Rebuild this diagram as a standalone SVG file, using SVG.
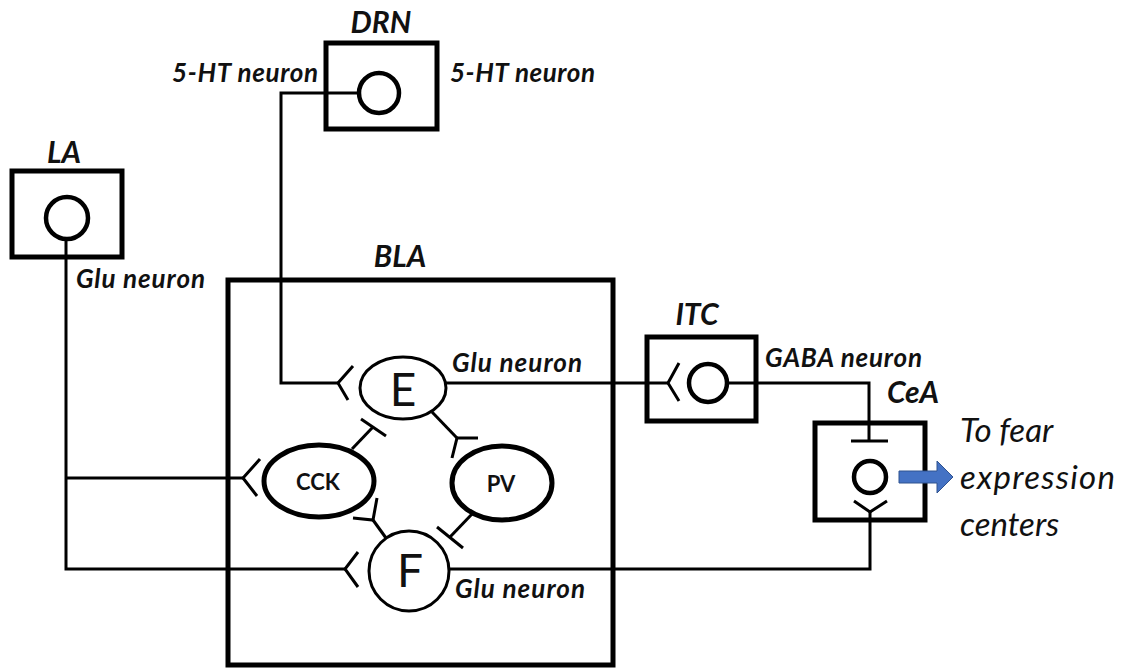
<svg xmlns="http://www.w3.org/2000/svg" width="1126" height="668" viewBox="0 0 1126 668">
<style>
.box{fill:none;stroke:#000;stroke-width:5}
.soma{fill:#fff;stroke:#000;stroke-width:4.5}
.thin{fill:#fff;stroke:#000;stroke-width:3}
.thick{fill:#fff;stroke:#000;stroke-width:5}
.ln{fill:none;stroke:#000;stroke-width:3;stroke-linecap:butt;stroke-linejoin:miter}
.lbl{font-family:Lato,"Open Sans","Liberation Sans",sans-serif;font-weight:bold;font-style:italic;font-size:26px;fill:#111}
.ttl{font-family:Lato,"Open Sans","Liberation Sans",sans-serif;font-weight:bold;font-style:italic;font-size:30px;fill:#111}
.big{font-family:Lato,"Open Sans","Liberation Sans",sans-serif;font-size:46px;fill:#111}
.cell{font-family:Lato,"Open Sans","Liberation Sans",sans-serif;font-weight:bold;font-size:22px;fill:#111}
.out{font-family:Lato,"Open Sans","Liberation Sans",sans-serif;font-style:italic;font-size:33px;fill:#111}
</style>
<rect width="1126" height="668" fill="#fff"/>
<g id="connectors">
  <!-- DRN to E -->
  <polyline class="ln" points="359,93 281,93 281,383 338,383"/>
  <polyline class="ln" points="353,366 338,383 348,400"/>
  <!-- LA to CCK and F -->
  <polyline class="ln" points="66,239 66,569 345,569"/>
  <polyline class="ln" points="358,552 345,569 358,587"/>
  <line class="ln" x1="66" y1="478" x2="243" y2="478"/>
  <polyline class="ln" points="260,459 243,478 257,496"/>
  <!-- E to ITC -->
  <line class="ln" x1="446" y1="383" x2="668" y2="383"/>
  <polyline class="ln" points="679,363 668,383 679,401"/>
  <!-- ITC to CeA -->
  <polyline class="ln" points="727,383 869,383 869,441"/>
  <line class="ln" x1="851" y1="441" x2="888" y2="441"/>
  <!-- F to CeA -->
  <polyline class="ln" points="449,569 870,569 870,512"/>
  <polyline class="ln" points="854,501 870,512 887,501"/>
  <!-- CCK -| E -->
  <line class="ln" x1="352" y1="449" x2="373" y2="427"/>
  <line class="ln" x1="361" y1="419" x2="386" y2="436"/>
  <!-- E to PV -->
  <line class="ln" x1="432" y1="412" x2="457" y2="438"/>
  <polyline class="ln" points="478,438 457,438 452,458"/>
  <!-- F to CCK -->
  <line class="ln" x1="386" y1="538" x2="373" y2="520"/>
  <polyline class="ln" points="353,518 373,520 377,498"/>
  <!-- PV -| F -->
  <line class="ln" x1="473" y1="513" x2="450" y2="537"/>
  <line class="ln" x1="437" y1="527" x2="463" y2="548"/>
</g>
<g id="DRN">
  <rect class="box" x="326" y="43" width="111" height="86"/>
  <circle class="soma" cx="379" cy="93" r="20"/>
  <text class="ttl" x="381" y="33" text-anchor="middle">DRN</text>
  <text class="lbl" x="172" y="82" textLength="146">5-HT neuron</text>
  <text class="lbl" x="450" y="82" textLength="145">5-HT neuron</text>
</g>
<g id="LA">
  <rect class="box" x="12" y="171" width="110" height="86"/>
  <circle class="soma" cx="67" cy="218" r="21"/>
  <text class="ttl" x="64" y="163" text-anchor="middle">LA</text>
  <text class="lbl" x="76" y="288" textLength="129">Glu neuron</text>
</g>
<g id="BLA">
  <rect class="box" x="228" y="280" width="385" height="385"/>
  <text class="ttl" x="400" y="267" text-anchor="middle">BLA</text>
</g>
<g id="E">
  <ellipse class="thin" cx="403" cy="388" rx="43" ry="31"/>
  <text class="big" x="403" y="406" text-anchor="middle">E</text>
  <text class="lbl" x="452" y="372" textLength="130">Glu neuron</text>
</g>
<g id="CCK">
  <ellipse class="thick" cx="319" cy="481" rx="55" ry="36"/>
  <text class="cell" x="318" y="490" text-anchor="middle">CCK</text>
</g>
<g id="PV">
  <ellipse class="thick" cx="502" cy="483" rx="50" ry="37"/>
  <text class="cell" x="501" y="492" text-anchor="middle">PV</text>
</g>
<g id="F">
  <circle class="thin" cx="409" cy="571" r="40"/>
  <text class="big" x="410" y="587" text-anchor="middle">F</text>
  <text class="lbl" x="455" y="598" textLength="130">Glu neuron</text>
</g>
<g id="ITC">
  <rect class="box" x="647" y="337" width="109" height="84"/>
  <circle class="soma" cx="708" cy="383" r="19"/>
  <text class="ttl" x="697" y="325" text-anchor="middle">ITC</text>
  <text class="lbl" x="765" y="367" textLength="157">GABA neuron</text>
</g>
<g id="CeA">
  <rect class="box" x="815" y="423" width="110" height="97"/>
  <circle class="soma" cx="870" cy="477" r="16"/>
  <text class="ttl" x="913" y="403" text-anchor="middle">CeA</text>
</g>
<g id="output">
  <polygon points="899,471 937,471 937,461 953,477 937,493 937,483 899,483" fill="#4472C4" stroke="#2F528F" stroke-width="1"/>
  <text class="out" x="960" y="442">To fear</text>
  <text class="out" x="960" y="489" textLength="155">expression</text>
  <text class="out" x="960" y="536">centers</text>
</g>
</svg>
